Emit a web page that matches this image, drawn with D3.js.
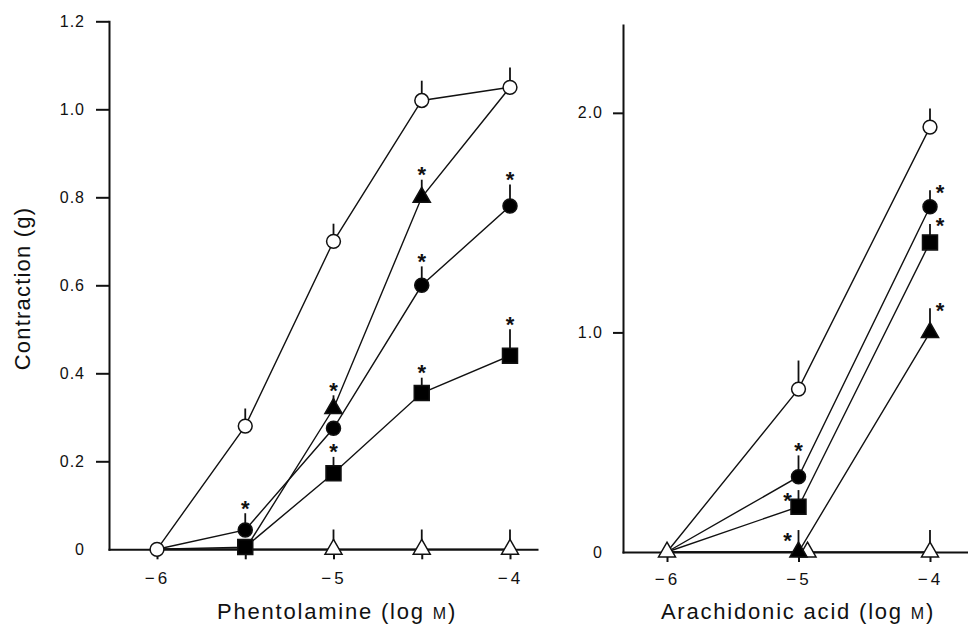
<!DOCTYPE html>
<html><head><meta charset="utf-8">
<script src="https://cdn.jsdelivr.net/npm/d3@7"></script>
<style>
body{margin:0;background:#fff;}
svg text{font-family:"Liberation Sans", Arial, Helvetica, sans-serif;fill:#111;}
</style></head><body>
<svg id="chart" width="968" height="629"></svg>
<script>
// ---------- DATA ----------
// Left panel: Phentolamine
const phentDoses = [-6, -5.5, -5, -4.5, -4];
const phentXTicks = [-6, -5.5, -5, -4.5, -4];
const phentXLabels = [-6, -5, -4];
const phentYTicks = [0, 0.2, 0.4, 0.6, 0.8, 1.0, 1.2];
const phentOpenCircle = [0, 0.28, 0.70, 1.02, 1.05];
const phentOpenCircleSem = [null, 0.04, 0.04, 0.045, 0.045];
const phentFilledTriangle = [0, 0, 0.32, 0.80, 1.05];
const phentFilledTriangleSem = [null, null, 0.03, 0.04, null];
const phentFilledTriangleSig = [null, null, "above", "above", null];
const phentFilledCircle = [0, 0.044, 0.275, 0.60, 0.78];
const phentFilledCircleSem = [null, 0.038, null, 0.043, 0.049];
const phentFilledCircleSig = [null, "above", null, "above", "above"];
const phentFilledSquare = [0, 0.005, 0.173, 0.355, 0.44];
const phentFilledSquareSem = [null, null, 0.037, 0.035, 0.06];
const phentFilledSquareSig = [null, null, "above", "above", "above"];
const phentOpenTriangle = [0, null, 0, 0, 0];
const phentOpenTriangleSem = [null, null, 0.045, 0.045, 0.045];

// Right panel: Arachidonic acid
const araDoses = [-6, -5, -4];
const araXTicks = [-6, -5, -4];
const araXLabels = [-6, -5, -4];
const araYTicks = [0, 1.0, 2.0];
const araOpenCircle = [0, 0.742, 1.935];
const araOpenCircleSem = [null, 0.13, 0.085];
const araFilledCircle = [0, 0.343, 1.572];
const araFilledCircleSem = [null, 0.097, 0.076];
const araFilledCircleSig = [null, "above", "right"];
const araFilledSquare = [0, 0.206, 1.41];
const araFilledSquareSem = [null, 0.076, 0.084];
const araFilledSquareSig = [null, "left", "right"];
const araFilledTriangle = [0, 0, 1.0];
const araFilledTriangleSem = [null, 0.10, 0.11];
const araFilledTriangleSig = [null, "left", "right"];
const araOpenTriangle = [0, 0, 0];
const araOpenTriangleSem = [null, null, 0.10];

// ---------- DRAWING ----------
const svg = d3.select("#chart");
const FONT = '"Liberation Sans", Arial, Helvetica, sans-serif';

const markerDefs = {
  openCircle:     {type: d3.symbolCircle,   size: 150, fill: "#fff"},
  filledCircle:   {type: d3.symbolCircle,   size: 155, fill: "#000"},
  filledSquare:   {type: d3.symbolSquare,   size: 225, fill: "#000"},
  filledTriangle: {type: d3.symbolTriangle, size: 128, fill: "#000"},
  openTriangle:   {type: d3.symbolTriangle, size: 125, fill: "#fff"}
};

function drawPanel(cfg) {
  const x = d3.scaleLinear().domain(cfg.xDomain).range(cfg.xRange);
  const y = d3.scaleLinear().domain(cfg.yDomain).range(cfg.yRange);
  const g = svg.append("g");

  // X axis
  const xAxis = d3.axisBottom(x)
    .tickValues(cfg.xTicks)
    .tickSize(10).tickSizeOuter(0).tickPadding(cfg.xPad)
    .tickFormat(d => cfg.xLabels.includes(d) ? "\u2212" + Math.abs(d) : "");
  const gx = g.append("g").attr("transform", `translate(0,${y(0)})`).call(xAxis);
  gx.select(".domain").attr("stroke", "#111").attr("stroke-width", 2).attr("stroke-linecap", "square");
  gx.selectAll(".tick line").attr("stroke", "#111").attr("stroke-width", 2);
  gx.selectAll(".tick text").attr("font-size", 17).attr("font-family", FONT)
    .attr("fill", "#111").attr("letter-spacing", 3);

  // Y axis
  const yAxis = d3.axisLeft(y)
    .tickValues(cfg.yTicks)
    .tickSize(cfg.yTickSize).tickSizeOuter(0).tickPadding(cfg.yPad)
    .tickFormat(cfg.yFormat);
  const gy = g.append("g").attr("transform", `translate(${x(cfg.xDomain[0])},0)`).call(yAxis);
  gy.select(".domain").attr("stroke", "#111").attr("stroke-width", 2).attr("stroke-linecap", "square");
  gy.selectAll(".tick line").attr("stroke", "#111").attr("stroke-width", 2)
    .filter(d => d === 0).remove();
  gy.selectAll(".tick text").attr("font-size", 16).attr("font-family", FONT)
    .attr("fill", "#111").attr("letter-spacing", 1);

  // Data points
  const series = cfg.series.map(s => ({
    ...s,
    pts: cfg.doses.map((d, i) => ({
      dose: d, v: s.values[i],
      sem: s.sem ? s.sem[i] : null,
      sig: s.sig ? s.sig[i] : null,
      dx: (s.dx && s.dx[i]) || 0,
      hidden: !!(s.hidden && s.hidden[i])
    })).filter(p => p.v !== null)
  }));

  const line = d3.line().x(p => x(p.dose) + p.dx).y(p => y(p.v));
  const gl = g.append("g");
  series.forEach(s => {
    gl.append("path").attr("d", line(s.pts)).attr("fill", "none")
      .attr("stroke", "#111").attr("stroke-width", 1.4);
  });

  // Error bars (upper only)
  const ge = g.append("g");
  series.forEach(s => {
    s.pts.filter(p => p.sem !== null).forEach(p => {
      ge.append("line")
        .attr("x1", x(p.dose) + p.dx).attr("x2", x(p.dose) + p.dx)
        .attr("y1", y(p.v)).attr("y2", y(p.v + p.sem))
        .attr("stroke", "#111").attr("stroke-width", 1.8);
    });
  });

  // Markers (points hidden behind an overlapping marker are not drawn)
  const gm = g.append("g");
  series.forEach(s => {
    const m = markerDefs[s.marker];
    const sym = d3.symbol().type(m.type).size(m.size);
    gm.selectAll(null).data(s.pts.filter(p => !p.hidden)).enter().append("path")
      .attr("d", sym)
      .attr("transform", p => `translate(${x(p.dose) + p.dx},${y(p.v)})`)
      .attr("fill", m.fill).attr("stroke", "#111").attr("stroke-width", 1.5);
  });

  // Significance asterisks
  const ga = g.append("g");
  series.forEach(s => {
    s.pts.filter(p => p.sig).forEach(p => {
      const top = y(p.v + (p.sem || 0));
      const px = x(p.dose) + p.dx;
      let cx = px, cy = top - 10;
      if (p.sig === "right") { cx = px + 10; cy = top - 3; }
      if (p.sig === "left") { cx = px - 11; cy = top + 5; }
      ga.append("text").attr("x", cx).attr("y", cy + 12.5)
        .attr("text-anchor", "middle").attr("font-size", 22).attr("font-weight", "bold")
        .text("*");
    });
  });

  // X title
  const xt = g.append("text").attr("x", cfg.xTitlePos[0]).attr("y", cfg.xTitlePos[1])
    .attr("text-anchor", "middle").attr("font-size", 22).attr("letter-spacing", 1.8);
  xt.append("tspan").text(cfg.xTitle + " (log ");
  xt.append("tspan").attr("font-size", 16).text("M");
  xt.append("tspan").text(")");
}

drawPanel({
  doses: phentDoses,
  xDomain: [-6.272, -3.847], xRange: [109, 537],
  yDomain: [0, 1.2], yRange: [549.3, 21.3],
  xTicks: phentXTicks, xLabels: phentXLabels, xPad: 13,
  yTicks: phentYTicks, yTickSize: 13, yPad: 11,
  yFormat: d => d === 0 ? "0" : d3.format(".1f")(d),
  xTitle: "Phentolamine", xTitlePos: [337, 619],
  series: [
    {marker: "openTriangle", values: phentOpenTriangle, sem: phentOpenTriangleSem, hidden: [1,0,0,0,0]},
    {marker: "filledTriangle", values: phentFilledTriangle, sem: phentFilledTriangleSem, sig: phentFilledTriangleSig, hidden: [1,1,0,0,1]},
    {marker: "filledSquare", values: phentFilledSquare, sem: phentFilledSquareSem, sig: phentFilledSquareSig, hidden: [1,0,0,0,0]},
    {marker: "filledCircle", values: phentFilledCircle, sem: phentFilledCircleSem, sig: phentFilledCircleSig, hidden: [1,0,0,0,0]},
    {marker: "openCircle", values: phentOpenCircle, sem: phentOpenCircleSem}
  ]
});

drawPanel({
  doses: araDoses,
  xDomain: [-6.3346, -3.711], xRange: [623, 968],
  yDomain: [0, 2.4], yRange: [552, 25],
  xTicks: araXTicks, xLabels: araXLabels, xPad: 11,
  yTicks: araYTicks, yTickSize: 10, yPad: 10,
  yFormat: d => d === 0 ? "0" : d3.format(".1f")(d),
  xTitle: "Arachidonic acid", xTitlePos: [798, 619],
  series: [
    {marker: "filledCircle", values: araFilledCircle, sem: araFilledCircleSem, sig: araFilledCircleSig, hidden: [1,0,0]},
    {marker: "filledSquare", values: araFilledSquare, sem: araFilledSquareSem, sig: araFilledSquareSig, hidden: [1,0,0]},
    {marker: "openCircle", values: araOpenCircle, sem: araOpenCircleSem, hidden: [1,0,0]},
    {marker: "openTriangle", values: araOpenTriangle, sem: araOpenTriangleSem, dx: [0, 9, 0]},
    {marker: "filledTriangle", values: araFilledTriangle, sem: araFilledTriangleSem, sig: araFilledTriangleSig, hidden: [1,0,0]}
  ]
});

// Y title
svg.append("text")
  .attr("transform", "translate(29.5,288.5) rotate(-90)")
  .attr("text-anchor", "middle").attr("font-size", 22).attr("letter-spacing", 1.2)
  .text("Contraction (g)");
</script>
</body></html>
